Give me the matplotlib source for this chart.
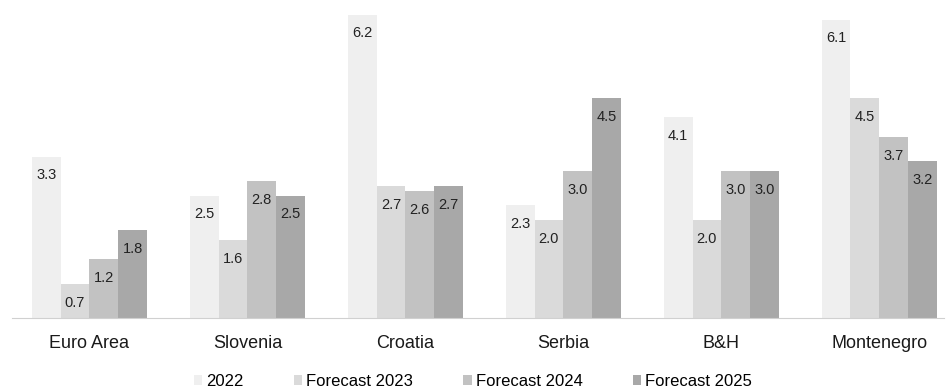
import numpy as np
import matplotlib.pyplot as plt

plt.rcParams['font.family'] = ['Liberation Sans', 'DejaVu Sans']

# Data
countries = ['Euro Area', 'Slovenia', 'Croatia', 'Serbia', 'B&H', 'Montenegro']
series = ['2022', 'Forecast 2023', 'Forecast 2024', 'Forecast 2025']
v2022 = [3.3, 2.5, 6.2, 2.3, 4.1, 6.1]
v2023 = [0.7, 1.6, 2.7, 2.0, 2.0, 4.5]
v2024 = [1.2, 2.8, 2.6, 3.0, 3.0, 3.7]
v2025 = [1.8, 2.5, 2.7, 4.5, 3.0, 3.2]

colors = ['#efefef', '#dadada', '#c2c2c2', '#a8a8a8']
values = [v2022, v2023, v2024, v2025]

fig = plt.figure(figsize=(9.46, 3.92), dpi=100)
ax = fig.add_axes([12 / 946, 74 / 392, 932 / 946, 318 / 392])

x = np.arange(len(countries))
w = 0.182
for i, (vals, name) in enumerate(zip(values, series)):
    pos = x + (i - 1.5) * w
    bars = ax.bar(pos, vals, w, color=colors[i], label=name, edgecolor='none')
    for b, v in zip(bars, vals):
        ax.annotate(f'{v:.1f}', (b.get_x() + b.get_width() / 2, v),
                    xytext=(0, -8.5), textcoords='offset points',
                    ha='center', va='top', fontsize=10.5, color='#222222')

ax.set_xlim(-0.49, 5.41)
ax.set_ylim(0, 6.5)
ax.set_xticks(x)
ax.set_xticklabels(countries, fontsize=13, color='#1a1a1a')
ax.tick_params(axis='x', length=0, pad=12)
ax.set_yticks([])
for s in ['top', 'right', 'left']:
    ax.spines[s].set_visible(False)
ax.spines['bottom'].set_color('#d0d0d0')

fig.legend(loc='lower center', ncol=4, frameon=False, fontsize=12,
           bbox_to_anchor=(0.5, -0.03), handlelength=0.5, handleheight=0.5,
           columnspacing=3.0, handletextpad=0.25)

fig.savefig('out.png', dpi=100)
